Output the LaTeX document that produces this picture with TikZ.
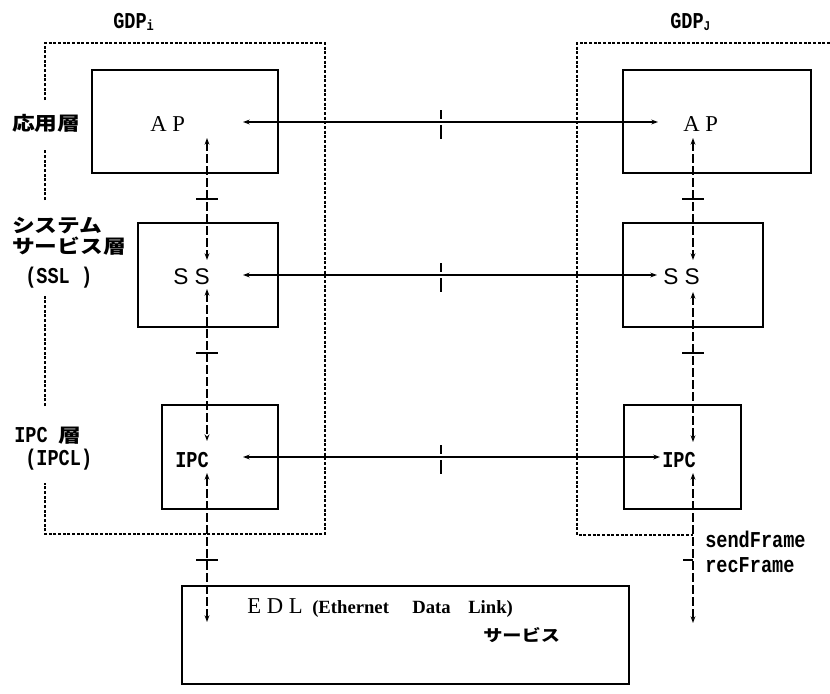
\documentclass[tikz,border=0pt]{standalone}
\usepackage{fontspec}
\setmainfont{Liberation Serif}
\newfontfamily\jpf[FakeStretch=1.2]{Noto Sans CJK JP}
\newfontfamily\monof[FakeStretch=0.82]{Liberation Mono}
\newfontfamily\sansf{Liberation Sans}
\usetikzlibrary{arrows.meta,fit}
\begin{document}
\begin{tikzpicture}[x=0.75pt,y=-0.75pt,
  box/.style={draw, line width=1.2pt, inner sep=0pt},
  lbl/.style={inner sep=0pt, anchor=base west},
  jplbl/.style={lbl, font=\jpf\bfseries\fontsize{14.2}{14.2}\selectfont},
  monolbl/.style={lbl, font=\monof\bfseries\fontsize{17}{17}\selectfont},
  bigser/.style={lbl, font=\fontsize{17}{17}\selectfont},
  edlser/.style={lbl, font=\bfseries\fontsize{14}{14}\selectfont},
  conn/.style={line width=1pt, {Stealth[length=5pt,width=3.6pt]}-{Stealth[length=5pt,width=3.6pt]}},
  vconn/.style={conn, dash pattern=on 7pt off 2pt},
  tickmark/.style={line width=1pt},
  midtick/.style={line width=1.6pt},
  dotbox/.style={line width=1.2pt, dash pattern=on 2.2pt off 1.3pt},
]
\useasboundingbox (0,0) rectangle (830,693);

% dotted enclosures
\draw[dotbox] (45,100) -- (45,43) -- (325,43) -- (325,534) -- (45,534) -- (45,483);
\draw[dotbox] (45,406) -- (45,296);
\draw[dotbox] (45,200) -- (45,150);
\draw[dotbox] (830,43) -- (577,43) -- (577,535) -- (693,535);

% boxes
\node[box, fit={(92,70) (278,173)}] (apL) {};
\node[box, fit={(138,223) (278,327)}] (ssL) {};
\node[box, fit={(162,405) (278,509)}] (ipcL) {};
\node[box, fit={(623,70) (811,173)}] (apR) {};
\node[box, fit={(623,223) (763,327)}] (ssR) {};
\node[box, fit={(624,405) (741,509)}] (ipcR) {};
\node[box, fit={(182,586) (629,684)}] (edl) {};

% titles
\node[monolbl] (gdpi) at (113,28) {GDP\raisebox{-2pt}{\fontsize{11}{11}\selectfont i}};
\node[monolbl] (gdpj) at (670,28) {GDP\raisebox{-2pt}{\fontsize{10}{10}\selectfont J}};

% layer labels
\node[jplbl] (lapp) at (12,130) {応用層};
\node[jplbl] (lsys1) at (12,232) {システム};
\node[jplbl] (lsys2) at (12,253) {サービス層};
\node[monolbl] (lsys3) at (25,283) {(SSL )};
\node[monolbl] (lipc1) at (14,442) {IPC};
\node[jplbl] (lipc2) at (58,442) {層};
\node[monolbl] (lipc3) at (25,465) {(IPCL)};

% box texts
\node[bigser] (tapL) at (150,131) {A P};
\node[bigser] (tapR) at (683,131) {A P};
\node[lbl, font=\sansf\fontsize{17}{17}\selectfont] (tssL) at (173,284) {S S};
\node[lbl, font=\sansf\fontsize{17}{17}\selectfont] (tssR) at (663,284) {S S};
\node[monolbl] (tipcL) at (175,467) {IPC};
\node[monolbl] (tipcR) at (662,467) {IPC};

% EDL texts
\node[bigser] (tedl1) at (247,613) {E D L};
\node[edlser] (tedl2) at (312,613) {(Ethernet};
\node[edlser] (tedl3) at (412,613) {Data};
\node[edlser] (tedl4) at (468,613) {Link)};
\node[lbl, font=\jpf\bfseries\fontsize{12}{12}\selectfont] (tedl5) at (483,641) {サービス};

\node[monolbl] (send) at (705,547) {sendFrame};
\node[monolbl] (rec) at (705,572) {recFrame};

% horizontal connectors
\coordinate (hAPl) at (243,122);  \coordinate (hAPr) at (658,122);
\coordinate (hSSl) at (243,275);  \coordinate (hSSr) at (657,275);
\coordinate (hIPl) at (243,457);  \coordinate (hIPr) at (660,457);
\draw[conn] (hAPl) -- (hAPr);
\draw[conn] (hSSl) -- (hSSr);
\draw[conn] (hIPl) -- (hIPr);
\coordinate (mAP) at (441,122);
\coordinate (mSS) at (441,275);
\coordinate (mIP) at (441,457);
\foreach \m in {mAP,mSS,mIP}{
  \draw[midtick] (\m) ++(0,-12) -- ++(0,9);
  \draw[midtick] (\m) ++(0,3) -- ++(0,14);
}

% vertical connectors, left
\coordinate (vL1a) at (207,138); \coordinate (vL1b) at (207,260);
\coordinate (vL2a) at (207,289); \coordinate (vL2b) at (207,441);
\coordinate (vL3a) at (207,473); \coordinate (vL3b) at (207,622);
\draw[vconn] (vL1a) -- (vL1b);
\draw[vconn] (vL2a) -- (vL2b);
\draw[vconn] (vL3a) -- (vL3b);
% vertical connectors, right
\coordinate (vR1a) at (693,138); \coordinate (vR1b) at (693,260);
\coordinate (vR2a) at (693,292); \coordinate (vR2b) at (693,442);
\coordinate (vR3a) at (693,473); \coordinate (vR3b) at (693,623);
\draw[vconn] (vR1a) -- (vR1b);
\draw[vconn] (vR2a) -- (vR2b);
\draw[vconn] (vR3a) -- (vR3b);

% ticks on vertical connectors
\coordinate (tL1) at (207,199); \coordinate (tL2) at (207,353); \coordinate (tL3) at (207,560);
\coordinate (tR1) at (693,199); \coordinate (tR2) at (693,353); \coordinate (tR3) at (693,560);
\foreach \t in {tL1,tL2,tL3,tR1,tR2}{
  \draw[tickmark] (\t) ++(-11,0) -- ++(22,0);
}
\draw[tickmark] (tR3) ++(-10,0) -- ++(10,0);
\end{tikzpicture}
\end{document}
